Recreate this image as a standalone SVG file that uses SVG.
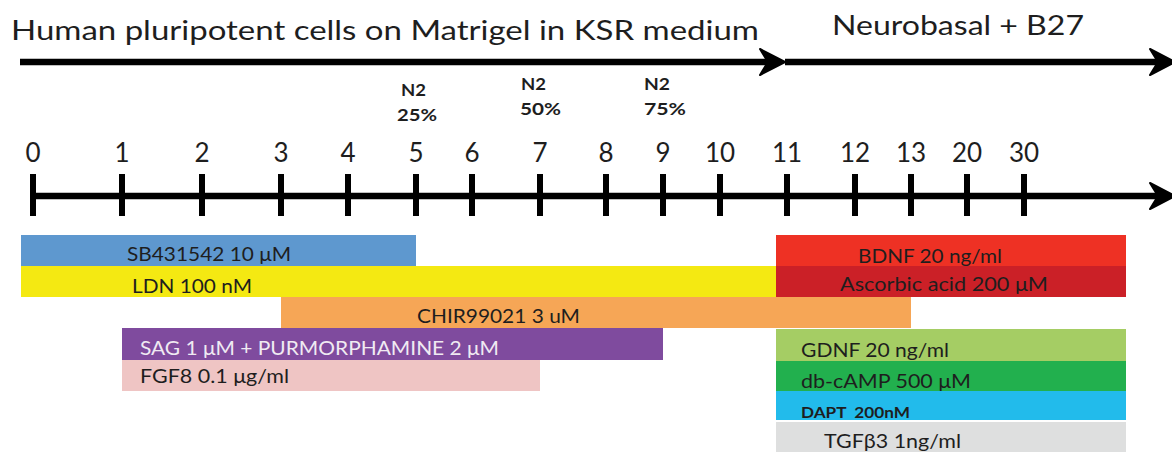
<svg xmlns="http://www.w3.org/2000/svg" width="1172" height="452" viewBox="0 0 1172 452">
<defs>
<style>
text{font-family:Lato,"Open Sans","Liberation Sans",sans-serif;fill:#1e1e1e}
.hdr{font-size:26px}
.tick{font-size:26px;text-anchor:middle}
.n2{font-size:17px;font-weight:bold}
.lbl{font-size:19px}
.ln{stroke:#000;stroke-width:6.5;fill:none}
.tk{stroke:#000;stroke-width:6;fill:none}
</style>
<path id="ah" d="M-25,-13 L0,0 L-25,13 L-17,0 Z" fill="#000" stroke="#000" stroke-width="2" stroke-linejoin="round"/>
</defs>
<rect width="1172" height="452" fill="#fff"/>

<g id="header">
<text class="hdr" x="11" y="40" textLength="748" lengthAdjust="spacingAndGlyphs">Human pluripotent cells on Matrigel in KSR medium</text>
<text class="hdr" x="832" y="35" textLength="252" lengthAdjust="spacingAndGlyphs">Neurobasal + B27</text>
</g>

<g id="connectors">
<line class="ln" x1="20" y1="62" x2="770" y2="62"/>
<use href="#ah" x="785" y="62"/>
<line class="ln" x1="785" y1="62" x2="1160" y2="62"/>
<use href="#ah" x="1175" y="62"/>
<line class="ln" x1="30" y1="196" x2="1160" y2="196"/>
<use href="#ah" x="1175" y="196"/>
</g>

<g id="n2-labels">
<text class="n2" x="401" y="96" textLength="25" lengthAdjust="spacingAndGlyphs">N2</text>
<text class="n2" x="397" y="121" textLength="40" lengthAdjust="spacingAndGlyphs">25%</text>
<text class="n2" x="521" y="90" textLength="25" lengthAdjust="spacingAndGlyphs">N2</text>
<text class="n2" x="520" y="115" textLength="41" lengthAdjust="spacingAndGlyphs">50%</text>
<text class="n2" x="644" y="90" textLength="26" lengthAdjust="spacingAndGlyphs">N2</text>
<text class="n2" x="644" y="115" textLength="42" lengthAdjust="spacingAndGlyphs">75%</text>
</g>

<g id="timeline-ticks">
<path class="tk" d="M33,174V216M122,174V216M202,174V216M281,174V216M348,174V216M416,174V216M472,174V216M540,174V216M606,174V216M663,174V216M720,174V216M787,174V216M855,174V216M911,174V216M967,174V216M1024,174V216"/>
<text class="tick" x="33" y="162">0</text>
<text class="tick" x="122" y="162">1</text>
<text class="tick" x="202" y="162">2</text>
<text class="tick" x="281" y="162">3</text>
<text class="tick" x="348" y="162">4</text>
<text class="tick" x="416" y="162">5</text>
<text class="tick" x="472" y="162">6</text>
<text class="tick" x="540" y="162">7</text>
<text class="tick" x="606" y="162">8</text>
<text class="tick" x="663" y="162">9</text>
<text class="tick" x="720" y="162">10</text>
<text class="tick" x="787" y="162">11</text>
<text class="tick" x="855" y="162">12</text>
<text class="tick" x="911" y="162">13</text>
<text class="tick" x="967" y="162">20</text>
<text class="tick" x="1024" y="162">30</text>
</g>

<g id="bar-sb431542">
<rect x="21" y="235" width="395" height="31" fill="#5e98cf"/>
<text class="lbl" x="127" y="261" textLength="164" lengthAdjust="spacingAndGlyphs">SB431542 10 μM</text>
</g>
<g id="bar-ldn">
<rect x="21" y="266" width="756" height="31" fill="#f4e912"/>
<text class="lbl" x="132" y="293" textLength="120" lengthAdjust="spacingAndGlyphs">LDN 100 nM</text>
</g>
<g id="bar-chir">
<rect x="281" y="297" width="630" height="31" fill="#f6a656"/>
<text class="lbl" x="417" y="323" textLength="163" lengthAdjust="spacingAndGlyphs">CHIR99021 3 uM</text>
</g>
<g id="bar-sag">
<rect x="122" y="328" width="541" height="32" fill="#7f4b9e"/>
<text class="lbl" x="140" y="355" textLength="359" lengthAdjust="spacingAndGlyphs" style="fill:#f0eaf2">SAG 1 μM + PURMORPHAMINE 2 μM</text>
</g>
<g id="bar-fgf8">
<rect x="122" y="360" width="418" height="31" fill="#efc5c4"/>
<text class="lbl" x="140" y="383" textLength="149" lengthAdjust="spacingAndGlyphs">FGF8 0.1 μg/ml</text>
</g>

<g id="bar-bdnf">
<rect x="776" y="235" width="350" height="31" fill="#ee3124"/>
<text class="lbl" x="858" y="263" textLength="144" lengthAdjust="spacingAndGlyphs">BDNF 20 ng/ml</text>
</g>
<g id="bar-ascorbic">
<rect x="776" y="266" width="350" height="31" fill="#cb2027"/>
<text class="lbl" x="840" y="291" textLength="208" lengthAdjust="spacingAndGlyphs">Ascorbic acid 200 μM</text>
</g>
<g id="bar-gdnf">
<rect x="776" y="329" width="350" height="32" fill="#a5cd64"/>
<text class="lbl" x="801" y="357" textLength="148" lengthAdjust="spacingAndGlyphs">GDNF 20 ng/ml</text>
</g>
<g id="bar-dbcamp">
<rect x="776" y="361" width="350" height="30" fill="#22b04e"/>
<text class="lbl" x="801" y="388" textLength="170" lengthAdjust="spacingAndGlyphs">db-cAMP 500 μM</text>
</g>
<g id="bar-dapt">
<rect x="776" y="391" width="350" height="29" fill="#22bbeb"/>
<text class="lbl" x="801" y="418" textLength="109" lengthAdjust="spacingAndGlyphs" xml:space="preserve" style="font-size:15px;font-weight:bold;white-space:pre">DAPT  200nM</text>
</g>
<g id="bar-tgfb3">
<rect x="776" y="422" width="350" height="30" fill="#dedfdf"/>
<text class="lbl" x="824" y="448" textLength="137" lengthAdjust="spacingAndGlyphs">TGFβ3 1ng/ml</text>
</g>
</svg>
